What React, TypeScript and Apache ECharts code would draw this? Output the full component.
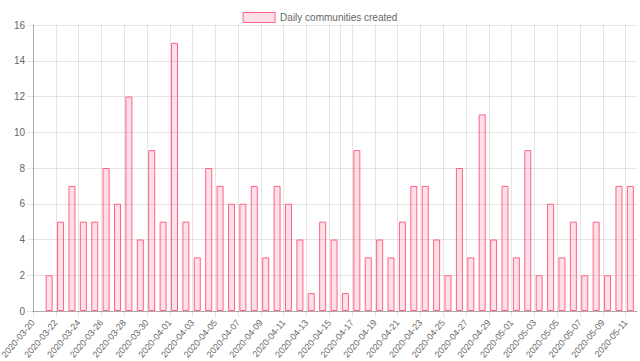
import React, { useEffect, useRef } from "react";
import * as echarts from "echarts";

const SERIES_NAME = "Daily communities created";
const AXIS_START = "2020-03-20";
const AXIS_END_DAYS = 53;
const TZ_SHIFT_HOURS = 10;

const dates = [
  "2020-03-21", "2020-03-22", "2020-03-23", "2020-03-24", "2020-03-25", "2020-03-26",
  "2020-03-27", "2020-03-28", "2020-03-29", "2020-03-30", "2020-03-31", "2020-04-01",
  "2020-04-02", "2020-04-03", "2020-04-04", "2020-04-05", "2020-04-06", "2020-04-07",
  "2020-04-08", "2020-04-09", "2020-04-10", "2020-04-11", "2020-04-12", "2020-04-13",
  "2020-04-14", "2020-04-15", "2020-04-16", "2020-04-17", "2020-04-18", "2020-04-19",
  "2020-04-20", "2020-04-21", "2020-04-22", "2020-04-23", "2020-04-24", "2020-04-25",
  "2020-04-26", "2020-04-27", "2020-04-28", "2020-04-29", "2020-04-30", "2020-05-01",
  "2020-05-02", "2020-05-03", "2020-05-04", "2020-05-05", "2020-05-06", "2020-05-07",
  "2020-05-08", "2020-05-09", "2020-05-10", "2020-05-11",
];

const counts = [
  2, 5, 7, 5, 5, 8, 6, 12, 4, 9, 5, 15, 5, 3, 8, 7, 6, 6, 7, 3, 7, 6, 4, 1, 5,
  4, 1, 9, 3, 4, 3, 5, 7, 7, 4, 2, 8, 3, 11, 4, 7, 3, 9, 2, 6, 3, 5, 2, 5, 2, 7, 7,
];

const extraGridDate = "2020-04-16";

const DAY = 86400000;
const startMs = Date.parse(AXIS_START + "T00:00:00Z");
const toDays = (d: string) => (Date.parse(d + "T00:00:00Z") - startMs) / DAY;
const fmt = (v: number) => {
  const d = new Date(startMs + Math.round(v) * DAY);
  const mm = String(d.getUTCMonth() + 1).padStart(2, "0");
  const dd = String(d.getUTCDate()).padStart(2, "0");
  return `${d.getUTCFullYear()}-${mm}-${dd}`;
};

const FONT = "'Liberation Sans', Arial, Helvetica, sans-serif";
const GRID = "rgba(0,0,0,0.1)";
const PINK = "rgb(255,99,132)";
const PINK_FILL = "rgba(255,99,132,0.2)";

export default function App() {
  const ref = useRef<HTMLDivElement>(null);
  useEffect(() => {
    if (!ref.current) return;
    const chart = echarts.init(ref.current, null, { renderer: "svg" });
    const data = dates.map((d, i) => [toDays(d) + TZ_SHIFT_HOURS / 24, counts[i]]);
    chart.setOption({
      animation: false,
      textStyle: { fontFamily: FONT },
      legend: {
        top: 7,
        left: "center",
        itemWidth: 32,
        itemHeight: 10,
        itemGap: 10,
        textStyle: { color: "#666", fontSize: 10, fontFamily: FONT },
        data: [
          {
            name: SERIES_NAME,
            icon: "rect",
            itemStyle: { color: PINK_FILL, borderColor: PINK, borderWidth: 1 },
          },
        ],
      },
      grid: {
        left: 33,
        right: 3,
        top: 25,
        bottom: 50,
        containLabel: false,
        outerBoundsMode: "none",
      },
      xAxis: {
        type: "value",
        min: 0,
        max: AXIS_END_DAYS,
        interval: 2,
        axisLine: { show: true, lineStyle: { color: "rgba(0,0,0,0.25)", width: 1 } },
        axisTick: { show: true, length: 6, lineStyle: { color: GRID } },
        splitLine: { show: true, showMaxLine: false, lineStyle: { color: GRID, width: 1 } },
        axisLabel: {
          rotate: 50,
          margin: 10,
          color: "#666",
          fontSize: 9,
          fontFamily: FONT,
          verticalAlign: "middle",
          showMinLabel: true,
          showMaxLabel: false,
          hideOverlap: false,
          formatter: (v: number) => fmt(v),
        },
      },
      yAxis: {
        type: "value",
        min: 0,
        max: 16,
        interval: 2,
        axisLine: { show: true, lineStyle: { color: "rgba(0,0,0,0.25)", width: 1 } },
        axisTick: { show: true, length: 6, lineStyle: { color: GRID } },
        splitLine: { show: true, lineStyle: { color: GRID, width: 1 } },
        axisLabel: { color: "#666", fontSize: 10, fontFamily: FONT, margin: 8 },
      },
      series: [
        {
          name: SERIES_NAME,
          type: "bar",
          barWidth: 7,
          data,
          itemStyle: { color: PINK_FILL, borderColor: PINK, borderWidth: 1 },
          emphasis: { disabled: true },
          markLine: {
            silent: true,
            symbol: "none",
            label: { show: false },
            lineStyle: { color: GRID, type: "solid", width: 1 },
            data: [{ xAxis: toDays(extraGridDate) }],
          },
        },
      ],
    });
    return () => chart.dispose();
  }, []);
  return (
    <div
      ref={ref}
      style={{ position: "absolute", left: 0, top: 0, width: 640, height: 361 }}
    />
  );
}
